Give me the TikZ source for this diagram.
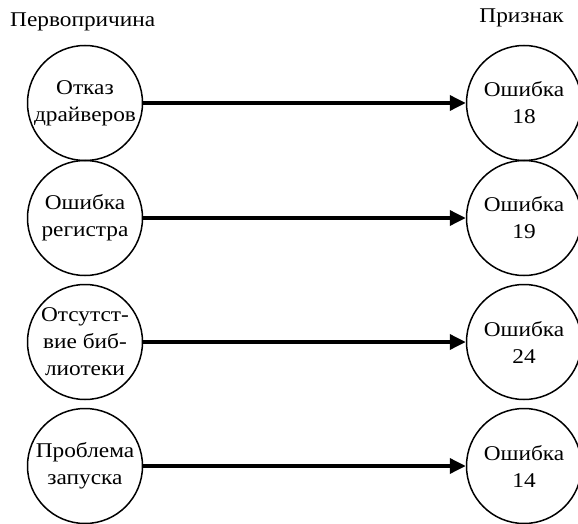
\documentclass[tikz,border=0pt]{standalone}
\usepackage{fontspec}
\setmainfont{Liberation Serif}[FakeStretch=1.11]
\usetikzlibrary{arrows.meta}

\begin{document}
\begin{tikzpicture}[x=1pt,y=-1pt,font=\fontsize{21}{27}\selectfont,
    ring/.style={draw,circle,line width=1.5pt,minimum size=115pt,inner sep=-15pt,align=center},
    link/.style={line width=3.5pt,-{Triangle[length=16pt,width=15pt]}}]
            \useasboundingbox (0,0) rectangle (578,524);
            \node[anchor=base west,inner sep=0pt] (cause) at (10,27) {Первопричина};
            \node[anchor=base east,inner sep=0pt] (sign) at (564,23) {Признак};
            \foreach \i/\y/\txt/\num in {1/103/{Отказ\\драйверов}/18,2/218/{Ошибка\\регистра}/19,
                3/342/{Отсутст-\\вие биб-\\лиотеки}/24,4/466/{Проблема\\запуска}/14}{
                \node[ring] (c\i) at (85,\y) {\txt};
                \node[ring] (s\i) at (524,\y) {Ошибка\\\num};
                \draw[link] (c\i) -- (s\i);
            }
        \end{tikzpicture}
\end{document}
